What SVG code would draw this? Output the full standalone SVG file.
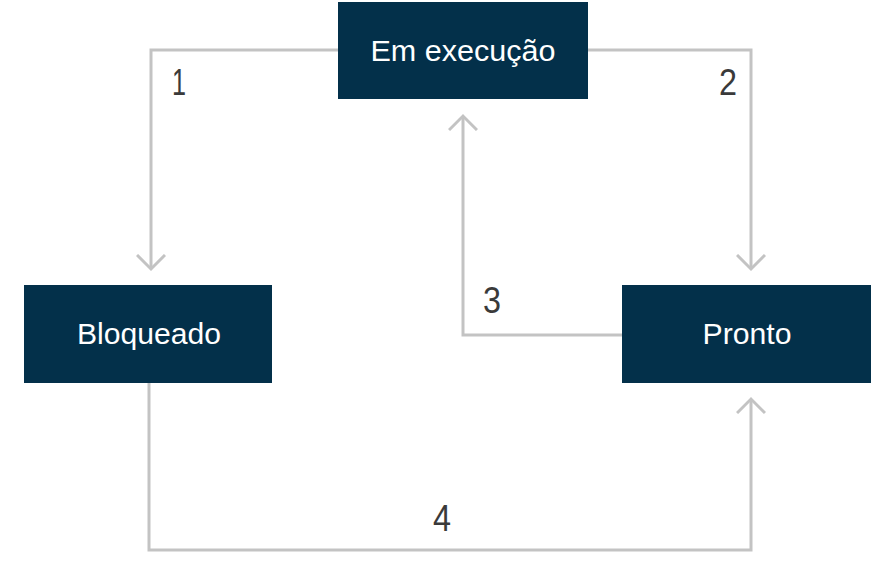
<svg xmlns="http://www.w3.org/2000/svg" width="894" height="570" viewBox="0 0 894 570">
<style>
.box{fill:#03304a}
.nt{fill:#fff;font-family:"Liberation Sans",Arial,sans-serif;font-size:30px;text-anchor:middle}
.lt{fill:#3a3a3a;font-family:"Liberation Sans",Arial,sans-serif;font-size:36px;text-anchor:middle}
.c{fill:none;stroke:#c3c3c3;stroke-width:3}
</style>
<defs>
<marker id="a" markerWidth="30" markerHeight="30" refX="15" refY="15" orient="auto" markerUnits="userSpaceOnUse" viewBox="0 0 30 30">
<polyline points="1,1 15,15 1,29" fill="none" stroke="#c3c3c3" stroke-width="3"/>
</marker>
</defs>
<rect width="894" height="570" fill="#fff"/>
<g id="connectors">
<polyline class="c" points="338,50 151,50 151,269" marker-end="url(#a)"/>
<polyline class="c" points="588,50 751,50 751,269" marker-end="url(#a)"/>
<polyline class="c" points="622,335 463,335 463,116" marker-end="url(#a)"/>
<polyline class="c" points="149,383 149,550 751,550 751,399" marker-end="url(#a)"/>
<text class="lt" x="179" y="95" textLength="14" lengthAdjust="spacingAndGlyphs">1</text>
<text class="lt" x="728" y="95" textLength="18" lengthAdjust="spacingAndGlyphs">2</text>
<text class="lt" x="492" y="313" textLength="18" lengthAdjust="spacingAndGlyphs">3</text>
<text class="lt" x="442" y="531" textLength="18" lengthAdjust="spacingAndGlyphs">4</text>
</g>
<g id="em-execucao"><rect class="box" x="338" y="2" width="250" height="97"/><text class="nt" x="463" y="61" textLength="185" lengthAdjust="spacingAndGlyphs">Em execução</text></g>
<g id="bloqueado"><rect class="box" x="24" y="285" width="248" height="98"/><text class="nt" x="149" y="344" textLength="144" lengthAdjust="spacingAndGlyphs">Bloqueado</text></g>
<g id="pronto"><rect class="box" x="622" y="285" width="249" height="98"/><text class="nt" x="747" y="344" textLength="89" lengthAdjust="spacingAndGlyphs">Pronto</text></g>
</svg>
